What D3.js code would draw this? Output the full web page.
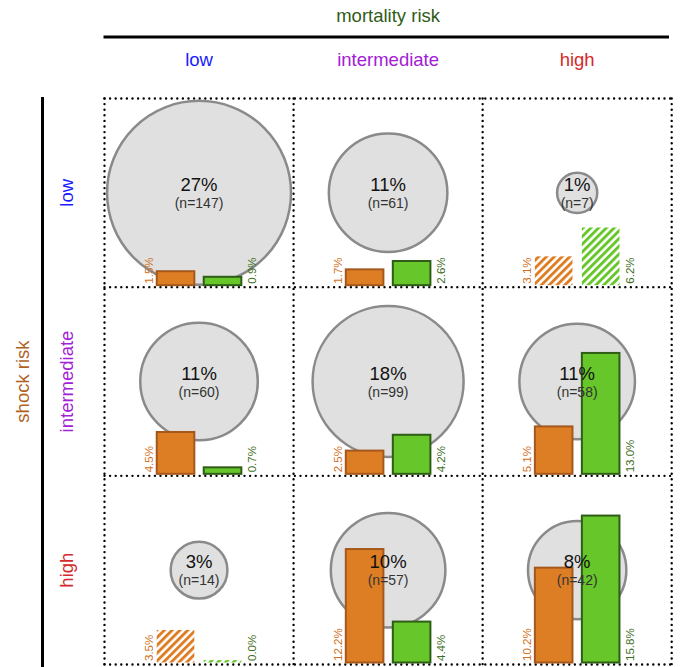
<!DOCTYPE html>
<html>
<head>
<meta charset="utf-8">
<script src="https://cdn.jsdelivr.net/npm/d3@7"></script>
<style>
  html, body { margin: 0; padding: 0; background: #fff; }
  svg { display: block; font-family: "Liberation Sans", Arial, Helvetica, sans-serif; }
</style>
</head>
<body>
<svg id="chart" width="681" height="667"></svg>
<script>
// Risk levels (rows = shock risk, columns = mortality risk)
const shockLevels = ["low", "intermediate", "high"];
const mortalityLevels = ["low", "intermediate", "high"];
const levelColors = ["#1a1aff", "#a320d6", "#d42a2a"];

// Patient counts per cell, row-major (shock risk row, mortality risk column)
const counts = [
  [147, 61, 7],
  [60, 99, 58],
  [14, 57, 42]
];
// Observed shock rate (%) per cell
const shockRate = [
  [1.5, 1.7, 3.1],
  [4.5, 2.5, 5.1],
  [3.5, 12.2, 10.2]
];
// Observed mortality rate (%) per cell
const mortalityRate = [
  [0.9, 2.6, 6.2],
  [0.7, 4.2, 13.0],
  [0.0, 4.4, 15.8]
];
// Cells with too few patients get hatched bars
const smallSampleLimit = 20;

const svg = d3.select("#chart");
const total = d3.sum(counts.flat());

const gridLeft = 104.5, gridRight = 671.7, gridTop = 98.5, gridBottom = 664.5;
const x = d3.scaleBand().domain(d3.range(3)).range([gridLeft, gridRight]);
const y = d3.scaleBand().domain(d3.range(3)).range([gridTop, gridBottom]);
const r = d3.scaleSqrt().domain([0, 147]).range([0, 92]);
const barH = d3.scaleLinear().domain([0, 20]).range([0, 186]);
const barX = d3.scaleBand().domain(["shock", "mortality"]).range([-47, 47]).paddingInner(0.2).paddingOuter(0.1);

const orangeFill = "#de7e24", orangeStroke = "#a4581c", orangeText = "#cf6f22";
const greenFill = "#66c62a", greenStroke = "#2f5c17", greenText = "#3d6e22";

// Hatch patterns for small-sample bars
const defs = svg.append("defs");
[["hatch-orange", orangeFill], ["hatch-green", greenFill]].forEach(([id, c]) => {
  const p = defs.append("pattern")
    .attr("id", id)
    .attr("patternUnits", "userSpaceOnUse")
    .attr("width", 5.5).attr("height", 5.5)
    .attr("patternTransform", "rotate(45)");
  p.append("rect").attr("x", 0).attr("y", 0).attr("width", 2.9).attr("height", 5.5).attr("fill", c);
});

// Headers
svg.append("text")
  .attr("x", (gridLeft + gridRight) / 2).attr("y", 22)
  .attr("text-anchor", "middle").attr("font-size", 18.5).attr("fill", "#2f5c17")
  .text("mortality risk");
svg.append("line")
  .attr("x1", gridLeft - 1).attr("x2", 669).attr("y1", 37).attr("y2", 37)
  .attr("stroke", "#000").attr("stroke-width", 3);
svg.selectAll("text.colLabel").data(mortalityLevels).join("text")
  .attr("class", "colLabel")
  .attr("x", (d, i) => x(i) + x.bandwidth() / 2).attr("y", 66)
  .attr("text-anchor", "middle").attr("font-size", 18.5)
  .attr("fill", (d, i) => levelColors[i])
  .text(d => d);

svg.append("text")
  .attr("transform", `translate(28.5,${(gridTop + gridBottom) / 2}) rotate(-90)`)
  .attr("text-anchor", "middle").attr("font-size", 18.5).attr("fill", "#b0621f")
  .text("shock risk");
svg.append("line")
  .attr("x1", 42.5).attr("x2", 42.5).attr("y1", 97).attr("y2", 667)
  .attr("stroke", "#000").attr("stroke-width", 3);
svg.selectAll("text.rowLabel").data(shockLevels).join("text")
  .attr("class", "rowLabel")
  .attr("transform", (d, i) => `translate(73,${y(i) + y.bandwidth() / 2}) rotate(-90)`)
  .attr("text-anchor", "middle").attr("font-size", 18.5)
  .attr("fill", (d, i) => levelColors[i])
  .text(d => d);

// Dotted grid
const gridLines = [];
d3.range(4).forEach(i => {
  const xv = i < 3 ? x(i) : gridRight;
  gridLines.push([xv, gridTop, xv, gridBottom]);
  const yv = i < 3 ? y(i) : gridBottom;
  gridLines.push([gridLeft, yv, gridRight, yv]);
});
svg.append("g").selectAll("line").data(gridLines).join("line")
  .attr("x1", d => d[0]).attr("y1", d => d[1]).attr("x2", d => d[2]).attr("y2", d => d[3])
  .attr("stroke", "#000").attr("stroke-width", 2.4)
  .attr("stroke-linecap", "round").attr("stroke-dasharray", "0 5.6");

// Cells
const cells = [];
shockLevels.forEach((s, i) => mortalityLevels.forEach((m, j) => {
  cells.push({ row: i, col: j, n: counts[i][j], shock: shockRate[i][j], mort: mortalityRate[i][j] });
}));

const cellG = svg.append("g").selectAll("g").data(cells).join("g")
  .attr("transform", d => `translate(${x(d.col) + x.bandwidth() / 2},${y(d.row) + y.bandwidth() / 2})`);

cellG.append("circle")
  .attr("r", d => r(d.n))
  .attr("fill", "#e0e0e0").attr("stroke", "#8a8a8a").attr("stroke-width", 2.5);

const base = d => y.bandwidth() / 2 - 2;

cellG.each(function (d) {
  const g = d3.select(this);
  const small = d.n < smallSampleLimit;
  const b = base(d);
  const bars = [
    { key: "shock", v: d.shock, fill: orangeFill, stroke: orangeStroke, hatch: "url(#hatch-orange)" },
    { key: "mortality", v: d.mort, fill: greenFill, stroke: greenStroke, hatch: "url(#hatch-green)" }
  ];
  bars.forEach(bar => {
    const h = barH(bar.v);
    const x0 = barX(bar.key);
    if (small) {
      // zero-height hatched bars still show the stripe ends along the baseline
      const hh = Math.max(h, 2.4);
      g.append("rect")
        .attr("x", x0).attr("y", b - hh).attr("width", barX.bandwidth()).attr("height", hh)
        .attr("fill", bar.hatch);
    } else {
      g.append("rect")
        .attr("x", x0).attr("y", b - h).attr("width", barX.bandwidth()).attr("height", h)
        .attr("fill", bar.fill).attr("stroke", bar.stroke).attr("stroke-width", 2);
    }
  });
});

// Percent and count labels
cellG.append("text")
  .attr("y", -2).attr("text-anchor", "middle").attr("font-size", 18.5).attr("fill", "#111")
  .text(d => `${Math.round(d.n / total * 100)}%`);
cellG.append("text")
  .attr("y", 15).attr("text-anchor", "middle").attr("font-size", 14).attr("fill", "#333")
  .text(d => `(n=${d.n})`);

// Bar value labels
cellG.append("text")
  .attr("transform", d => `translate(${barX("shock") - 3.5},${base(d) - 1.5}) rotate(-90)`)
  .attr("font-size", 11.5).attr("fill", orangeText)
  .text(d => `${d.shock.toFixed(1)}%`);
cellG.append("text")
  .attr("transform", d => `translate(${barX("mortality") + barX.bandwidth() + 14.5},${base(d) - 1.5}) rotate(-90)`)
  .attr("font-size", 11.5).attr("fill", greenText)
  .text(d => `${d.mort.toFixed(1)}%`);
</script>
</body>
</html>
